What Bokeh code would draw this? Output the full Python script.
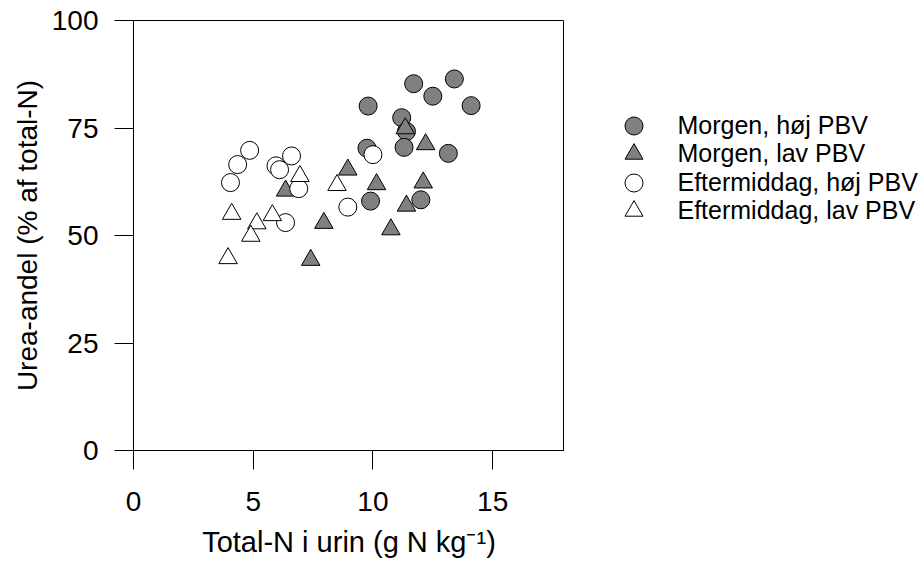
from bokeh.plotting import figure
from bokeh.layouts import row
from bokeh.models import Range1d, FixedTicker, Legend, LegendItem
from bokeh.embed import file_html
from bokeh.resources import INLINE

# Total-N in urine (g N/kg) and urea share (% of total-N), four groups
morgen_hoj_x = [11.7, 13.4, 12.5, 9.8, 14.1, 11.2, 11.4, 11.3, 9.75, 13.15, 9.9, 12.0]
morgen_hoj_y = [85.3, 86.4, 82.4, 80.1, 80.2, 77.4, 74.2, 70.5, 70.3, 69.1, 58.0, 58.3]

morgen_lav_x = [11.35, 12.2, 8.95, 10.15, 12.1, 6.35, 11.4, 7.95, 10.75, 7.4]
morgen_lav_y = [74.9, 71.2, 65.3, 61.9, 62.3, 60.4, 56.9, 52.9, 51.4, 44.3]

efter_hoj_x = [4.85, 4.35, 4.05, 6.6, 5.95, 6.1, 6.9, 10.0, 8.95, 6.35]
efter_hoj_y = [69.8, 66.5, 62.3, 68.5, 66.2, 65.3, 60.9, 68.8, 56.6, 53.0]

efter_lav_x = [6.95, 4.1, 5.15, 5.8, 4.9, 3.95, 8.5]
efter_lav_y = [63.8, 55.0, 52.8, 54.7, 49.9, 44.7, 61.7]

series_labels = ["Morgen, høj PBV", "Morgen, lav PBV",
                 "Eftermiddag, høj PBV", "Eftermiddag, lav PBV"]

x_ticks = [0, 5, 10, 15]
y_ticks = [0, 25, 50, 75, 100]

FONT = "Liberation Sans"
GRAY = "#808080"

# marker styles per series: (marker, size, fill)
styles = [("circle", 18, GRAY), ("triangle", 18.5, GRAY),
          ("circle", 18, "white"), ("triangle", 18.5, "white")]

series = [(morgen_hoj_x, morgen_hoj_y), (morgen_lav_x, morgen_lav_y),
          (efter_hoj_x, efter_hoj_y), (efter_lav_x, efter_lav_y)]

# ---- scatter plot -------------------------------------------------------
p = figure(frame_width=431, frame_height=430, output_backend="svg",
           toolbar_location=None,
           x_range=Range1d(0, 18), y_range=Range1d(0, 100),
           min_border_left=133, min_border_right=0,
           min_border_top=20, min_border_bottom=121)
p.background_fill_color = "white"
p.border_fill_color = "white"
p.outline_line_color = "black"
p.outline_line_width = 1
p.xgrid.visible = False
p.ygrid.visible = False

for ax, ticks in ((p.xaxis[0], x_ticks), (p.yaxis[0], y_ticks)):
    ax.ticker = FixedTicker(ticks=ticks)
    ax.major_tick_out = 19
    ax.major_tick_in = 0
    ax.minor_tick_line_color = None
    ax.axis_line_color = "black"
    ax.major_tick_line_color = "black"
    ax.major_label_text_font = FONT
    ax.major_label_text_font_size = "28px"
    ax.major_label_text_color = "black"
    ax.axis_label_text_font = FONT
    ax.axis_label_text_font_style = "normal"
    ax.axis_label_text_color = "black"

p.xaxis.axis_label_text_font_size = "29px"
p.yaxis.axis_label_text_font_size = "28px"
p.xaxis.major_label_standoff = 22
p.yaxis.major_label_standoff = 16
p.xaxis.axis_label = "Total-N i urin (g N kg\u207b\u00b9)"
p.yaxis.axis_label = "Urea-andel (% af total-N)"
p.xaxis.axis_label_standoff = 12
p.yaxis.axis_label_standoff = 6

for (xs, ys), (marker, size, fill) in zip(series, styles):
    p.scatter(xs, ys, marker=marker, size=size,
              fill_color=fill, line_color="black", line_width=1)

# ---- legend panel -------------------------------------------------------
# Its frame is aligned with the scatter frame (top 20, bottom 450); the key
# renderers hold one point each, which lies outside this panel's ranges.
lp = figure(width=358, height=571, output_backend="svg", toolbar_location=None,
            x_range=Range1d(-2, -1), y_range=Range1d(-2, -1),
            x_axis_type=None, y_axis_type=None,
            min_border=0)
lp.outline_line_color = None
lp.xgrid.visible = False
lp.ygrid.visible = False
lp.background_fill_color = "white"
lp.border_fill_color = "white"

row_offsets = [302.5, 274.0, 245.5, 217.0]
for label, (xs, ys), (marker, size, fill), vy in zip(series_labels, series,
                                                     styles, row_offsets):
    key = lp.scatter(xs[:1], ys[:1], marker=marker, size=size,
                     fill_color=fill, line_color="black", line_width=1)
    lg = Legend(items=[LegendItem(label=label, renderers=[key])],
                location=(46.5, vy))
    lg.glyph_width = 45
    lg.glyph_height = 45
    lg.padding = 0
    lg.margin = 0
    lg.label_standoff = 22
    lg.label_text_font = FONT
    lg.label_text_font_size = "25px"
    lg.label_text_color = "black"
    lg.background_fill_alpha = 0
    lg.border_line_color = None
    lp.add_layout(lg, "center")

layout = row(p, lp, spacing=0)
open("out.html", "w").write(file_html(layout, INLINE))
